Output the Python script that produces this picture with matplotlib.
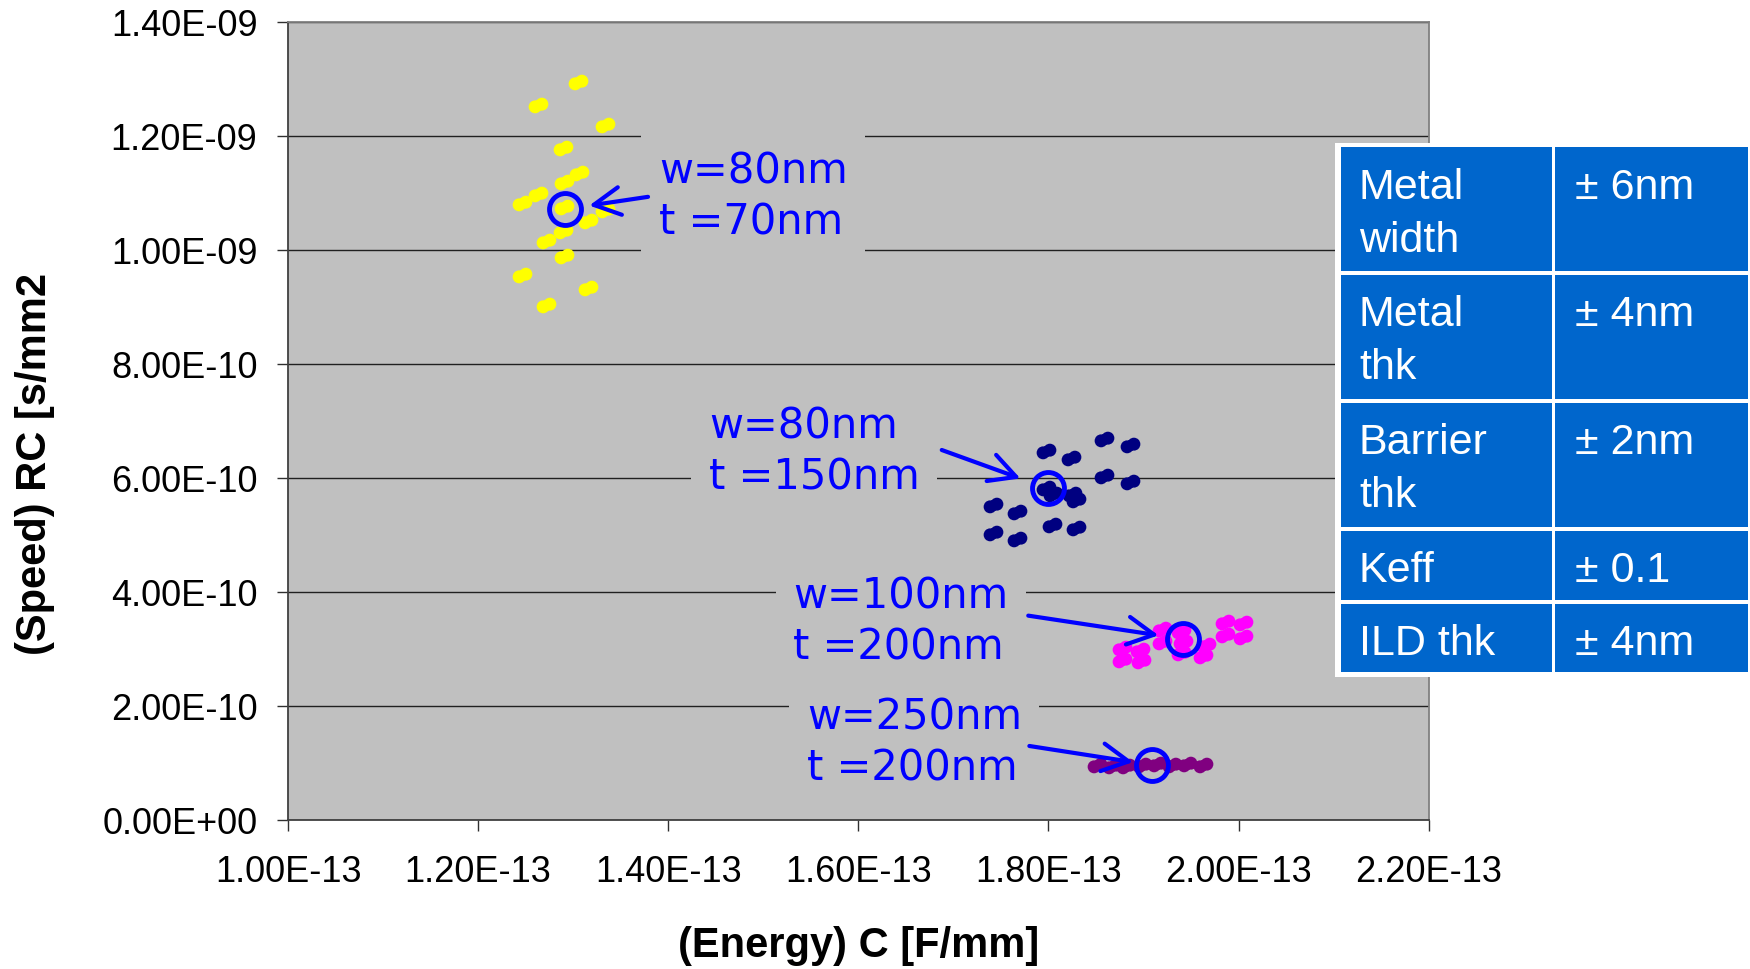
import matplotlib
matplotlib.use('Agg')
import matplotlib.pyplot as plt
from matplotlib.path import Path
from matplotlib.patches import Rectangle
from matplotlib.ticker import FuncFormatter

# ---------------- data ----------------
yellow_x = [1.305e-13, 1.263e-13, 1.334e-13, 1.289e-13, 1.306e-13, 1.290e-13, 1.263e-13, 1.246e-13,
            1.290e-13, 1.334e-13, 1.316e-13, 1.289e-13, 1.271e-13, 1.290e-13, 1.246e-13, 1.316e-13, 1.271e-13]
yellow_y = [1.296e-9, 1.254e-9, 1.220e-9, 1.179e-9, 1.135e-9, 1.120e-9, 1.099e-9, 1.082e-9,
            1.075e-9, 1.071e-9, 1.052e-9, 1.034e-9, 1.017e-9, 0.990e-9, 0.957e-9, 0.934e-9, 0.903e-9]

navy_x = [1.797e-13, 1.824e-13, 1.859e-13, 1.886e-13, 1.859e-13, 1.886e-13, 1.798e-13, 1.805e-13,
          1.825e-13, 1.829e-13, 1.742e-13, 1.767e-13, 1.804e-13, 1.829e-13, 1.742e-13, 1.767e-13]
navy_y = [6.48e-10, 6.35e-10, 6.69e-10, 6.58e-10, 6.03e-10, 5.93e-10, 5.82e-10, 5.72e-10,
          5.72e-10, 5.62e-10, 5.52e-10, 5.41e-10, 5.18e-10, 5.12e-10, 5.03e-10, 4.94e-10]

magenta_x = [1.877e-13, 1.896e-13, 1.877e-13, 1.897e-13, 1.920e-13, 1.919e-13, 1.940e-13, 1.942e-13,
             1.940e-13, 1.966e-13, 1.963e-13, 1.986e-13, 2.005e-13, 1.986e-13, 2.005e-13]
magenta_y = [3.01e-10, 2.98e-10, 2.81e-10, 2.79e-10, 3.36e-10, 3.13e-10, 3.31e-10, 3.13e-10,
             2.93e-10, 3.07e-10, 2.87e-10, 3.47e-10, 3.46e-10, 3.24e-10, 3.21e-10]

purple_x = [1.851e-13, 1.867e-13, 1.882e-13, 1.898e-13, 1.914e-13, 1.930e-13, 1.946e-13, 1.963e-13]
purple_y = [0.96e-10, 0.95e-10, 0.95e-10, 0.96e-10, 0.99e-10, 0.96e-10, 0.98e-10, 0.96e-10]

nominal_x = [1.2914e-13, 1.7993e-13, 1.9413e-13, 1.9087e-13]
nominal_y = [1.072e-9, 5.821e-10, 3.177e-10, 0.965e-10]

annot_labels = ["w=80nm\nt =70nm", "w=80nm\nt =150nm", "w=100nm\nt =200nm", "w=250nm\nt =200nm"]
annot_text_x = [1.3903e-13, 1.4429e-13, 1.5313e-13, 1.5460e-13]
annot_text_y = [1.0936e-9, 6.461e-10, 3.478e-10, 1.354e-10]

table_params = ["Metal\nwidth", "Metal\nthk", "Barrier\nthk", "Keff", "ILD thk"]
table_values = ["\u00b1 6nm", "\u00b1 4nm", "\u00b1 2nm", "\u00b1 0.1", "\u00b1 4nm"]

x_ticks = [1.0e-13, 1.2e-13, 1.4e-13, 1.6e-13, 1.8e-13, 2.0e-13, 2.2e-13]
y_ticks = [0.0, 2e-10, 4e-10, 6e-10, 8e-10, 1.0e-9, 1.2e-9, 1.4e-9]

# ---------------- style ----------------
W, H = 1750, 969
fig = plt.figure(figsize=(W / 100, H / 100), dpi=100)
fig.patch.set_facecolor('white')
plt.rcParams['font.family'] = ['Liberation Sans', 'DejaVu Sans']

ax_l, ax_r, ax_t, ax_b = 288, 1428.6, 22.3, 820
ax = fig.add_axes([ax_l / W, 1 - ax_b / H, (ax_r - ax_l) / W, (ax_b - ax_t) / H])
ax.set_facecolor('#C0C0C0')
ax.set_xlim(x_ticks[0], x_ticks[-1])
ax.set_ylim(y_ticks[0], y_ticks[-1])
ax.set_xticks(x_ticks)
ax.set_yticks(y_ticks)
fmt = FuncFormatter(lambda v, p: f"{v:.2E}")
ax.xaxis.set_major_formatter(fmt)
ax.yaxis.set_major_formatter(fmt)
ax.tick_params(axis='both', direction='out', length=8, width=1.0, color='#303030',
               labelsize=26, labelcolor='black')
ax.tick_params(axis='y', pad=14)
ax.tick_params(axis='x', pad=17)
ax.set_axisbelow(True)
ax.yaxis.grid(True, color='#202020', lw=1.0)
ax.xaxis.grid(False)
for s in ['left', 'bottom']:
    ax.spines[s].set_color('#404040')
    ax.spines[s].set_linewidth(1.3)
for s in ['top', 'right']:
    ax.spines[s].set_color('#808080')
    ax.spines[s].set_linewidth(1.3)

ax.set_xlabel("(Energy) C [F/mm]", fontsize=30, fontweight='bold')
ax.set_ylabel("(Speed) RC [s/mm2", fontsize=30, fontweight='bold')
ax.xaxis.label.set_va('center')
ax.yaxis.label.set_va('center')
ax.xaxis.set_label_coords(0.5, -0.158)
ax.yaxis.set_label_coords(-0.222, 0.446)

# double-dot marker (two overlapping circles)
dd = Path.make_compound_path(Path.circle((-3.3, -1.3), 6.3), Path.circle((3.3, 1.3), 6.3))
ms_dd = 14.2
for xs, ys, c in [(yellow_x, yellow_y, '#FFFF00'), (navy_x, navy_y, '#000080'),
                  (magenta_x, magenta_y, '#FF00FF'), (purple_x, purple_y, '#800080')]:
    ax.plot(xs, ys, linestyle='none', marker=dd, ms=ms_dd, mfc=c, mec=c, mew=0, zorder=4)

ax.plot(nominal_x, nominal_y, linestyle='none', marker='o', ms=23, mfc='none',
        mec='#0000FF', mew=3.5, zorder=5)

# annotation texts
for lab, tx, ty in zip(annot_labels, annot_text_x, annot_text_y):
    ax.text(tx, ty, lab, family='DejaVu Sans', fontsize=30, color='#0000FF',
            ha='left', va='center', linespacing=1.28, zorder=3,
            bbox=dict(boxstyle='square,pad=0.42', fc='#C0C0C0', ec='none'))

# arrows: tail offsets (points) relative to nominal point, shrink at circle
arrow_tail = [(59.8, 8.9), (-76.3, 27.6), (-111.2, 16.8), (-88.1, 13.7)]
arrow_shrink = [17.7, 20.9, 17.6, 13.6]
for nx, ny, (dx, dy), sb in zip(nominal_x, nominal_y, arrow_tail, arrow_shrink):
    ax.annotate('', xy=(nx, ny), xycoords='data', xytext=(dx, dy), textcoords='offset points',
                arrowprops=dict(arrowstyle='->,head_length=0.95,head_width=0.5', color='#0000FF',
                                lw=3.0, shrinkA=0, shrinkB=sb, mutation_scale=20), zorder=6)

# ---------------- table overlay ----------------
ov = fig.add_axes([0, 0, 1, 1], zorder=10)
ov.set_xlim(0, W)
ov.set_ylim(H, 0)
ov.axis('off')
ov.patch.set_alpha(0)
ov.add_patch(Rectangle((1335, 143), 1750 - 1335, 677 - 143, fc='white', ec='none'))
cols = [(1341, 1552), (1555, 1748)]
rows = [(147, 271), (274.5, 398.6), (402.8, 527), (530.7, 600), (603.8, 672)]
text_x = [1359, 1575]
for (rt, rb), p, v in zip(rows, table_params, table_values):
    for (cl, cr) in cols:
        ov.add_patch(Rectangle((cl, rt), cr - cl, rb - rt, fc='#0066CC', ec='none'))
    for ci, txt in enumerate([p, v]):
        for li, line in enumerate(txt.split('\n')):
            ov.text(text_x[ci], rt + 51.5 + li * 53, line, color='white', fontsize=31,
                    ha='left', va='baseline')

fig.savefig('out.png', dpi=100)
